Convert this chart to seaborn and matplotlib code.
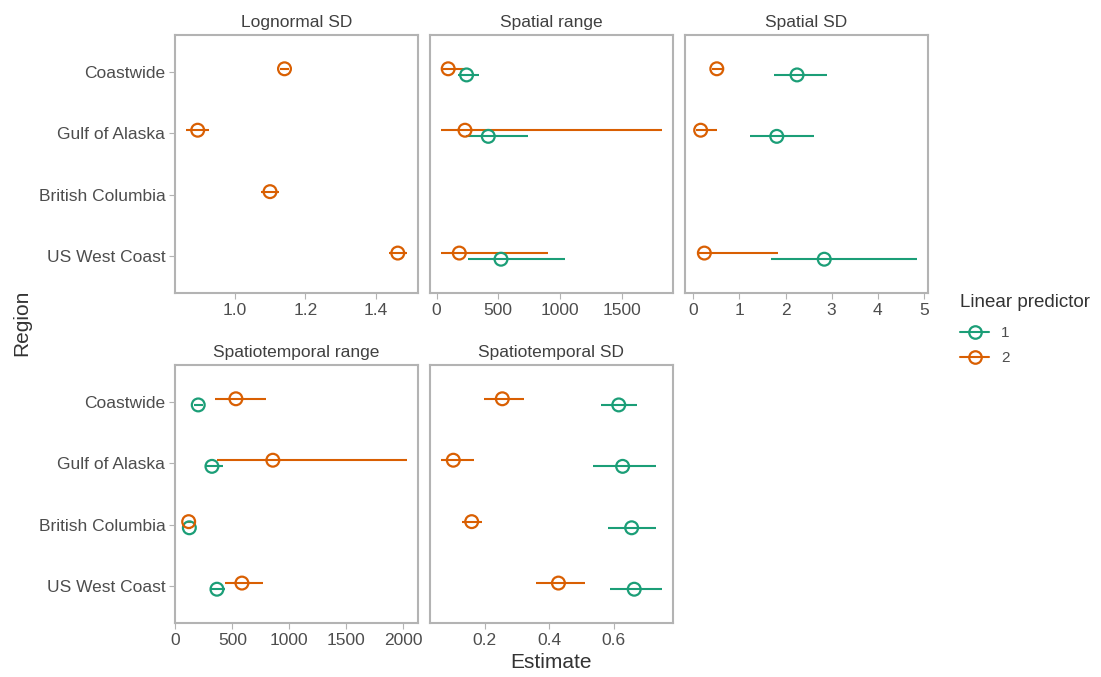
import numpy as np
import pandas as pd
import matplotlib
matplotlib.use("Agg")
import matplotlib.pyplot as plt
import seaborn as sns
from matplotlib.lines import Line2D
from matplotlib.ticker import FixedLocator

sns.set_theme(style="white")
plt.rcParams["font.family"] = ["Liberation Sans", "DejaVu Sans"]

regions = ["Coastwide", "Gulf of Alaska", "British Columbia", "US West Coast"]
panels = ["Lognormal SD", "Spatial range", "Spatial SD",
          "Spatiotemporal range", "Spatiotemporal SD"]
predictors = ["1", "2"]
palette = {"1": "#1B9E77", "2": "#D95F02"}
nan = np.nan

# Estimates with lower / upper interval bounds, one list per region order
lognormal_sd_p1 = [nan, nan, nan, nan]
lognormal_sd_p1_lo = [nan, nan, nan, nan]
lognormal_sd_p1_hi = [nan, nan, nan, nan]
lognormal_sd_p2 = [1.141, 0.895, 1.100, 1.462]
lognormal_sd_p2_lo = [1.128, 0.862, 1.075, 1.436]
lognormal_sd_p2_hi = [1.155, 0.927, 1.125, 1.488]

spatial_range_p1 = [243, 419, nan, 522]
spatial_range_p1_lo = [175, 238, nan, 257]
spatial_range_p1_hi = [346, 743, nan, 1041]
spatial_range_p2 = [94, 230, nan, 184]
spatial_range_p2_lo = [55, 36, nan, 38]
spatial_range_p2_hi = [222, 1827, nan, 900]

spatial_sd_p1 = [2.25, 1.81, nan, 2.84]
spatial_sd_p1_lo = [1.75, 1.23, nan, 1.68]
spatial_sd_p1_hi = [2.90, 2.62, nan, 4.85]
spatial_sd_p2 = [0.51, 0.16, nan, 0.24]
spatial_sd_p2_lo = [0.40, 0.06, nan, 0.07]
spatial_sd_p2_hi = [0.64, 0.52, nan, 1.84]

st_range_p1 = [201, 321, 123, 365]
st_range_p1_lo = [165, 262, 105, 306]
st_range_p1_hi = [245, 414, 140, 432]
st_range_p2 = [531, 855, 117, 584]
st_range_p2_lo = [350, 365, 94, 438]
st_range_p2_hi = [794, 2031, 135, 773]

st_sd_p1 = [0.615, 0.627, 0.655, 0.663]
st_sd_p1_lo = [0.559, 0.536, 0.583, 0.588]
st_sd_p1_hi = [0.672, 0.732, 0.730, 0.749]
st_sd_p2 = [0.254, 0.102, 0.159, 0.428]
st_sd_p2_lo = [0.198, 0.064, 0.130, 0.359]
st_sd_p2_hi = [0.322, 0.167, 0.190, 0.509]

x_ticks = {
    "Lognormal SD": [1.0, 1.2, 1.4],
    "Spatial range": [0, 500, 1000, 1500],
    "Spatial SD": [0, 1, 2, 3, 4, 5],
    "Spatiotemporal range": [0, 500, 1000, 1500, 2000],
    "Spatiotemporal SD": [0.2, 0.4, 0.6],
}
x_ticklabels = {
    "Lognormal SD": ["1.0", "1.2", "1.4"],
    "Spatial range": ["0", "500", "1000", "1500"],
    "Spatial SD": ["0", "1", "2", "3", "4", "5"],
    "Spatiotemporal range": ["0", "500", "1000", "1500", "2000"],
    "Spatiotemporal SD": ["0.2", "0.4", "0.6"],
}

series = {
    "Lognormal SD": [(lognormal_sd_p1, lognormal_sd_p1_lo, lognormal_sd_p1_hi),
                     (lognormal_sd_p2, lognormal_sd_p2_lo, lognormal_sd_p2_hi)],
    "Spatial range": [(spatial_range_p1, spatial_range_p1_lo, spatial_range_p1_hi),
                      (spatial_range_p2, spatial_range_p2_lo, spatial_range_p2_hi)],
    "Spatial SD": [(spatial_sd_p1, spatial_sd_p1_lo, spatial_sd_p1_hi),
                   (spatial_sd_p2, spatial_sd_p2_lo, spatial_sd_p2_hi)],
    "Spatiotemporal range": [(st_range_p1, st_range_p1_lo, st_range_p1_hi),
                             (st_range_p2, st_range_p2_lo, st_range_p2_hi)],
    "Spatiotemporal SD": [(st_sd_p1, st_sd_p1_lo, st_sd_p1_hi),
                          (st_sd_p2, st_sd_p2_lo, st_sd_p2_hi)],
}

rows = []
for panel in panels:
    for pred, (est, lo, hi) in zip(predictors, series[panel]):
        for i, region in enumerate(regions):
            rows.append(dict(panel=panel, region=region, predictor=pred,
                             est=est[i], lo=lo[i], hi=hi[i]))
df = pd.DataFrame(rows).dropna()

# dodge predictors vertically around each region
dodge = {"1": 0.05, "2": -0.05}
df["y"] = df["region"].map({r: i for i, r in enumerate(regions)}) + df["predictor"].map(dodge)

W, H = 1101, 677
fig = plt.figure(figsize=(W / 100, H / 100), dpi=100)

# panel boxes in pixels: (left, top, right, bottom)
boxes = {
    "Lognormal SD": (175, 35, 418, 293),
    "Spatial range": (430, 35, 673, 293),
    "Spatial SD": (685, 35, 928, 293),
    "Spatiotemporal range": (175, 365, 418, 623),
    "Spatiotemporal SD": (430, 365, 673, 623),
}

tick_col = "#4D4D4D"
frame_col = "#B3B3B3"
title_col = "#404040"

for panel in panels:
    l, t, r, b = boxes[panel]
    ax = fig.add_axes([l / W, 1 - b / H, (r - l) / W, (b - t) / H])
    sub = df[df["panel"] == panel]
    for pred in predictors:
        s = sub[sub["predictor"] == pred]
        ax.hlines(s["y"], s["lo"], s["hi"], colors=palette[pred], lw=1.5, zorder=2)
    sns.scatterplot(data=sub, x="est", y="y", hue="predictor", palette=palette,
                    hue_order=predictors, s=85, ax=ax, legend=False, zorder=3)
    for coll in ax.collections:
        if isinstance(coll, matplotlib.collections.PathCollection):
            fc = coll.get_facecolors()
            coll.set_edgecolors(fc)
            coll.set_facecolors("none")
            coll.set_linewidths(1.6)

    lo = min(sub["lo"].min(), sub["est"].min())
    hi = max(sub["hi"].max(), sub["est"].max())
    pad = (hi - lo) * 0.05
    ax.set_xlim(lo - pad, hi + pad)
    ax.set_ylim(3.6, -0.6)
    ax.xaxis.set_major_locator(FixedLocator(x_ticks[panel]))
    ax.set_xticklabels(x_ticklabels[panel])
    ax.set_yticks(range(len(regions)))
    if l == 175:
        ax.set_yticklabels(regions)
        ax.tick_params(axis="y", length=4, width=0.8, color=frame_col,
                       labelsize=12.5, labelcolor=tick_col, pad=3)
    else:
        ax.set_yticklabels([])
        ax.tick_params(axis="y", length=0)
    ax.tick_params(axis="x", length=4, width=0.8, color=frame_col,
                   labelsize=12.5, labelcolor=tick_col, pad=3)
    ax.tick_params(left=(l == 175), bottom=True)
    ax.set_xlabel("")
    ax.set_ylabel("")
    ax.grid(False)
    for sp in ax.spines.values():
        sp.set_color(frame_col)
        sp.set_linewidth(1.5)
    ax.set_title(panel, fontsize=12.5, color=title_col, pad=6)

fig.text(551 / W, 1 - 663 / H, "Estimate", ha="center", va="center",
         fontsize=15, color="#333333")
fig.text(22 / W, 1 - 323 / H, "Region", ha="center", va="center",
         rotation=90, fontsize=15, color="#333333")

handles = [Line2D([0], [0], color=palette[p], lw=1.5, marker="o", markersize=9,
                  markerfacecolor="none", markeredgewidth=1.6) for p in predictors]
leg = fig.legend(handles, predictors, title="Linear predictor",
                 loc="upper left", bbox_to_anchor=(954 / W, 1 - 288 / H),
                 frameon=False, fontsize=11, title_fontsize=13.5,
                 handlelength=1.9, handletextpad=0.8, labelspacing=0.72,
                 borderaxespad=0.0, borderpad=0.4)
leg.get_title().set_color("#333333")
for txt in leg.get_texts():
    txt.set_color(tick_col)
leg._legend_box.align = "left"
leg._legend_box.sep = 11

fig.savefig("out.png", dpi=100, facecolor="white")
